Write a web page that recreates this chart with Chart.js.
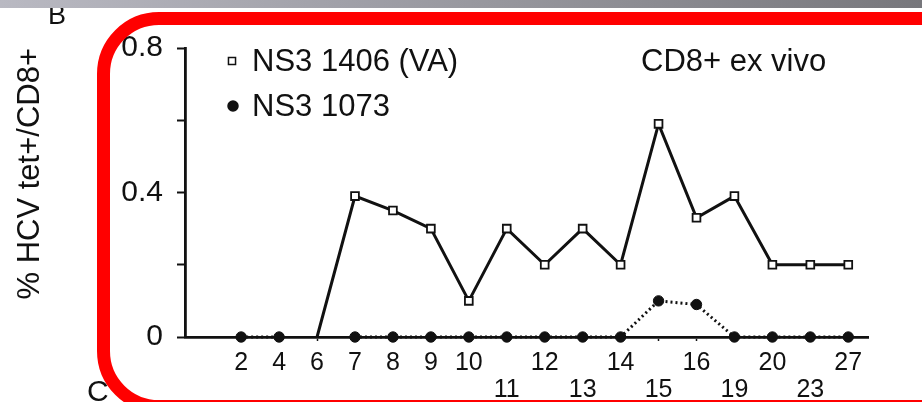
<!DOCTYPE html>
<html lang="en">
<head>
    <meta charset="UTF-8">
    <title>HCV tetramer CD8+ ex vivo</title>
    <script src="https://cdn.jsdelivr.net/npm/chart.js"></script>
    <style>
        body { margin: 0; overflow: hidden; background: #fff; font-family: 'Liberation Sans', Arial, sans-serif; }
        .wrap { position: relative; width: 922px; height: 402px; overflow: hidden; }
        .topbar { position: absolute; left: 0; top: 0; width: 922px; height: 8px;
                  background: linear-gradient(to right, #b9b9c2 0%, #a2a2aa 35%, #8c8c92 70%, #77777c 100%); z-index: 3; }
        .frame { position: absolute; left: 97px; top: 12px; width: 900px; height: 375px;
                 border: 13px solid #ff0000; border-radius: 62px; z-index: 2; pointer-events: none; }
        .letter { position: absolute; color: #111; z-index: 1; }
    </style>
</head>
<body>
    <div class="wrap">
        <canvas id="tetChart"></canvas>
        <div class="letter" style="left:48px; top:0px; font-size:27px;">B</div>
        <div class="letter" style="left:87px; top:374px; font-size:30px;">C</div>
        <div class="frame"></div>
        <div class="topbar"></div>
    </div>

    <script>
        // days (x categories); 11,13,15,19,23 sit on the lower label row
        const days = ['2', '4', '6', '7', '8', '9', '10', '11', '12', '13', '14', '15', '16', '19', '20', '23', '27'];
        const lowerRowDays = ['11', '13', '15', '19', '23'];

        // % HCV tet+/CD8+
        const ns3_1406 = [null, null, 0, 0.39, 0.35, 0.30, 0.10, 0.30, 0.20, 0.30, 0.20, 0.59, 0.33, 0.39, 0.20, 0.20, 0.20];
        const ns3_1073 = [0, 0, null, 0, 0, 0, 0, 0, 0, 0, 0, 0.10, 0.09, 0, 0, 0, 0];

        const yTickLabels = ['0', '0.4', '0.8'];

        const FONT = "'Liberation Sans', Arial, Helvetica, sans-serif";
        const INK = '#111';
        Chart.defaults.font.family = FONT;
        Chart.defaults.color = INK;

        const toPoints = vals => vals.map((v, i) => ({ x: i, y: v }));

        // legend and panel label sit inside the plot area
        const insideLegend = {
            id: 'insideLegend',
            afterDraw(chart) {
                const ctx = chart.ctx;
                const rows = [[232, 61], [233, 106]];
                ctx.save();
                chart.data.datasets.forEach((d, i) => {
                    const [x, y] = rows[i];
                    ctx.fillStyle = d.pointBackgroundColor;
                    ctx.strokeStyle = d.pointBorderColor;
                    ctx.lineWidth = 1.5;
                    Chart.helpers.drawPoint(ctx, { pointStyle: d.pointStyle, radius: 5, borderWidth: 1.5 }, x, y);
                    ctx.font = '31px ' + FONT;
                    ctx.fillStyle = INK;
                    ctx.textBaseline = 'middle';
                    ctx.fillText(d.label, 252, y + 1);
                });
                ctx.fillText('CD8+ ex vivo', 641, 62);
                ctx.restore();
            }
        };

        new Chart(document.getElementById('tetChart').getContext('2d'), {
            type: 'line',
            data: {
                datasets: [
                    {
                        label: 'NS3 1406 (VA)',
                        data: toPoints(ns3_1406),
                        borderColor: INK,
                        borderWidth: 3,
                        pointStyle: 'rect',
                        pointRadius: c => (c.raw && c.raw.y === 0 ? 0 : 5.5),
                        pointBackgroundColor: '#fff',
                        pointBorderColor: INK,
                        pointBorderWidth: 1.8,
                        tension: 0,
                        clip: false,
                        order: 0
                    },
                    {
                        label: 'NS3 1073',
                        data: toPoints(ns3_1073),
                        borderColor: INK,
                        borderWidth: 3,
                        borderDash: [2, 3],
                        pointStyle: 'circle',
                        pointRadius: 5.2,
                        pointBackgroundColor: INK,
                        pointBorderColor: INK,
                        pointBorderWidth: 1,
                        tension: 0,
                        clip: false,
                        order: 1
                    }
                ]
            },
            options: {
                responsive: true,
                maintainAspectRatio: false,
                animation: false,
                layout: { padding: { top: 48, right: 54, bottom: 0, left: 0 } },
                plugins: { legend: { display: false }, tooltip: { enabled: false } },
                scales: {
                    x: {
                        type: 'linear',
                        min: -1.48,
                        max: 16.52,
                        afterFit: s => { s.height = 65; },
                        afterBuildTicks: s => { s.ticks = days.map((_, i) => ({ value: i })); },
                        border: { display: true, color: INK, width: 2.8 },
                        grid: { display: true, drawOnChartArea: false, drawTicks: true, tickLength: 4, tickWidth: 1.5, tickColor: INK },
                        ticks: {
                            autoSkip: false,
                            maxRotation: 0,
                            padding: 8,
                            color: INK,
                            font: { size: 25, lineHeight: 1.1 },
                            callback: v => {
                                const d = days[Math.round(v)];
                                return lowerRowDays.includes(d) ? ['', d] : d;
                            }
                        }
                    },
                    y: {
                        min: 0,
                        max: 0.8,
                        afterFit: s => { s.width = 185; },
                        border: { display: true, color: INK, width: 2.8 },
                        grid: { display: true, drawOnChartArea: false, drawTicks: true, tickLength: 8, tickWidth: 2, tickColor: INK },
                        ticks: {
                            stepSize: 0.2,
                            padding: 14,
                            color: INK,
                            font: { size: 30 },
                            callback: v => {
                                const s = String(Math.round(v * 10) / 10);
                                return yTickLabels.includes(s) ? s : '';
                            }
                        },
                        title: {
                            display: true,
                            text: '% HCV tet+/CD8+',
                            align: 'end',
                            color: INK,
                            font: { size: 31 },
                            padding: { top: 12, bottom: 0 }
                        }
                    }
                }
            },
            plugins: [insideLegend]
        });
    </script>
</body>
</html>
